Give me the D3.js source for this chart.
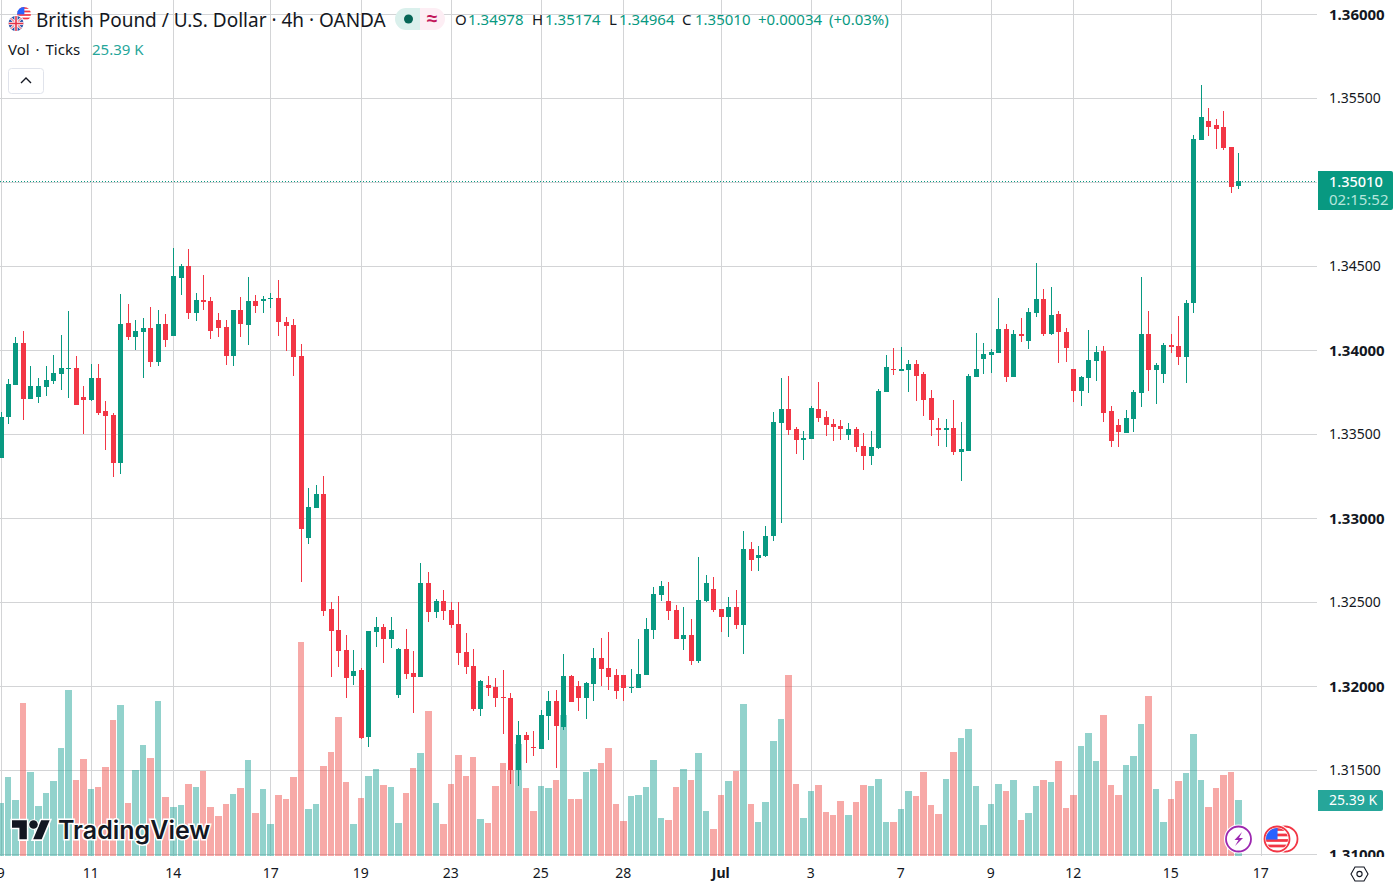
<!DOCTYPE html>
<html><head><meta charset="utf-8">
<script src="https://cdn.jsdelivr.net/npm/d3@7/dist/d3.min.js"></script>
<style>
html,body{margin:0;padding:0;background:#fff;overflow:hidden}
svg{display:block;font-family:"Noto Sans",sans-serif}
</style></head><body><svg id="c" width="1400" height="887"></svg>
<script>
// GBP/USD 4h, prices in 1/100000 of a dollar
const opens=[133359,133603,133794,134044,133710,133722,133782,133817,133859,133889,
133895,133722,133704,133835,133639,133615,133329,134163,134079,134109,
134133,133931,134157,134085,134430,134502,134222,134300,134294,134181,
134139,133966,134240,134151,134294,134294,134305,134311,134169,134151,
133966,132883,133061,133145,132460,132335,132216,132062,132097,131698,
132323,132353,132282,131948,132222,132079,132056,132615,132442,132508,
132454,132371,132204,132121,131865,132008,131996,131937,131931,131502,
131710,131639,131627,131823,131913,131758,132062,132002,131931,132014,
132169,132109,132067,132067,131990,131990,132067,132335,132544,132508,
132454,132282,132306,132151,132508,132579,132460,132413,132472,132365,
132817,132764,132776,132895,133567,133651,133532,133466,133472,133651,
133603,133562,133550,133496,133532,133431,133371,133419,133752,133889,
133877,133883,133919,133859,133716,133538,133526,133538,133395,133401,
133841,133948,133972,133984,134127,133841,134097,134056,134222,134306,
134097,134216,134109,133889,133758,133835,133937,133996,133639,133556,
133508,133591,133746,134097,133883,133859,134032,134026,133960,134282,
135252,135365,135341,135329,135210,134978];
const highs=[133633,133829,134079,134115,133907,133835,133907,133972,134091,134234,
133966,133788,133919,133919,133698,133627,134335,134276,134181,134192,
134258,134240,134216,134609,134514,134603,134341,134448,134317,134222,
134181,134240,134317,134436,134329,134323,134341,134419,134198,134186,
134038,133181,133198,133252,132502,132538,132306,132216,132109,132329,
132413,132371,132413,132228,132341,132210,132734,132681,132520,132573,
132502,132502,132317,132222,132038,132062,132050,132097,131960,131794,
131728,131734,131859,131972,131978,132192,132068,132032,132026,132228,
132288,132323,132103,132067,132103,132282,132407,132591,132627,132621,
132484,132472,132401,132770,132663,132651,132460,132532,132573,132925,
132859,132835,132954,133633,133835,133847,133544,133520,133669,133811,
133639,133591,133585,133567,133544,133508,133520,133770,133972,134014,
134020,133942,133942,133871,133764,133597,133591,133704,133573,133859,
134103,134044,134008,134311,134157,134121,134192,134252,134520,134365,
134377,134234,134133,133889,133847,134121,134026,134026,133669,133591,
133645,133764,134436,134234,133925,134044,134097,134204,134300,135282,
135579,135442,135377,135425,135210,135174];
const lows=[133359,133562,133794,133585,133710,133686,133728,133800,133764,133716,
133675,133502,133698,133615,133407,133246,133264,134061,134002,133835,
133901,133907,134020,134085,134329,134186,134175,134240,134067,134079,
133913,133907,134079,134032,134222,134222,134252,134085,133996,133847,
132621,132847,133061,132419,132056,132115,131931,132008,131687,131639,
132234,132139,132228,131931,132044,131841,132056,132383,132407,132395,
132347,132127,132073,131853,131823,131943,131877,131716,131419,131407,
131544,131585,131627,131681,131514,131740,131907,131853,131806,131913,
132002,131978,131925,131913,131960,131990,132067,132282,132508,132395,
132282,132216,132127,132139,132502,132442,132323,132294,132341,132192,
132686,132686,132770,132865,132972,133496,133383,133347,133472,133573,
133490,133460,133466,133466,133395,133288,133317,133413,133752,133853,
133877,133752,133698,133609,133490,133431,133425,133377,133222,133401,
133841,133859,133865,133984,133811,133841,134050,134008,134198,134085,
134091,133925,133931,133692,133669,133746,133817,133573,133425,133425,
133508,133514,133663,133758,133681,133806,133984,133913,133806,134222,
135252,135276,135198,135192,134936,134964];
const closes=[133603,133800,134044,133710,133788,133788,133823,133865,133895,133895,
133675,133704,133835,133627,133609,133329,134157,134079,134115,134133,
133931,134157,134061,134442,134502,134222,134300,134288,134115,134133,
133966,134240,134157,134294,134264,134305,134311,134169,134145,133960,
132936,133067,133145,132448,132329,132210,132050,132091,131693,132329,
132353,132282,132335,132222,132073,132056,132615,132442,132508,132448,
132365,132198,132115,131865,132032,131990,131931,131931,131502,131710,
131681,131633,131829,131913,131764,132062,131907,131931,132020,132169,
132103,132056,131972,131990,131996,132073,132341,132550,132597,132448,
132282,132306,132151,132514,132615,132454,132413,132472,132365,132817,
132752,132782,132895,133573,133651,133526,133466,133478,133657,133597,
133556,133544,133532,133532,133425,133371,133425,133758,133901,133883,
133889,133919,133847,133704,133585,133526,133538,133395,133413,133847,
133889,133978,133990,134127,133841,134097,134085,134228,134306,134097,
134210,134109,134014,133758,133841,133942,133990,133627,133460,133514,
133597,133752,134097,133883,133913,134032,134020,133960,134282,135258,
135389,135329,135317,135204,134972,135010];
// tick volume, thousands
const volumes=[24.0,35.9,25.4,69.6,38.2,22.6,28.6,34.0,49.1,75.5,
34.5,44.1,30.4,31.3,40.4,61.9,68.7,24.0,39.1,50.5,
44.5,70.5,26.8,22.2,23.1,32.7,31.3,38.6,22.2,18.1,
23.6,28.1,30.9,43.6,19.5,30.4,14.4,27.7,25.8,35.9,
97.4,21.3,23.6,40.9,47.3,63.2,33.6,14.4,26.3,36.3,
39.5,32.2,31.3,14.9,28.6,40.0,46.8,66.0,24.0,14.4,
32.7,45.9,36.3,45.0,16.7,14.9,31.8,42.3,39.1,50.9,
30.9,20.4,31.8,30.9,34.5,64.1,25.8,25.8,38.2,39.5,
42.3,49.1,23.6,15.8,27.2,27.7,31.3,43.6,17.2,16.3,
31.3,39.5,34.5,46.8,20.4,12.2,27.7,34.0,38.6,69.2,
23.6,15.4,24.5,52.3,62.3,82.4,32.7,17.2,29.5,32.2,
19.9,18.5,24.9,18.5,24.5,32.2,31.8,35.0,15.4,15.4,
21.3,29.5,27.2,38.2,23.1,19.0,35.0,47.3,53.7,57.8,
31.8,14.0,23.6,32.7,29.5,34.5,16.3,19.5,31.8,34.5,
33.6,43.2,21.7,27.7,50.0,55.9,43.2,64.1,32.2,27.7,
41.3,45.4,60.0,72.8,30.4,15.4,25.8,34.0,37.7,55.5,
34.5,22.2,30.9,36.8,38.2,25.39];
const priceTicks=[131000,131500,132000,132500,133000,133500,134000,134500,135000,135500,136000];
const boldPrices=[131000,132000,133000,134000,136000];
const timeTickIdx=[0,12,23,36,48,60,72,83,96,108,120,132,143,156,168];
const timeTickLabels=["9","11","14","17","19","23","25","28","Jul","3","7","9","12","15","17"];
const lastPrice=135010;

const GREEN="#089981",RED="#F23645",TEAL="#26a69a",VRED="#ef5350",GRID="#d3d4d6",TXT="#131722";
const svg=d3.select("#c");
const x=d3.scaleLinear().domain([0,168]).range([1.3,1261.3]);
const y=d3.scaleLinear().domain([131000,136000]).range([854.5,14.5]);
const v=d3.scaleLinear().domain([0,100]).range([855.7,636.4]);
const left=i=>Math.round(x(i)-2.8);
const idx=d3.range(opens.length);

// grid
const clipId="pane";
svg.append("clipPath").attr("id",clipId).append("rect").attr("width",1317).attr("height",856);
const pane=svg.append("g").attr("clip-path",`url(#${clipId})`);
pane.append("g").selectAll("rect").data(timeTickIdx.slice(0)).join("rect")
 .attr("x",d=>left(d)+2).attr("y",0).attr("width",1).attr("height",856).attr("fill",GRID).attr("shape-rendering","crispEdges");
pane.append("g").selectAll("rect").data(priceTicks).join("rect")
 .attr("x",0).attr("y",d=>Math.floor(y(d))).attr("width",1317).attr("height",1).attr("fill",GRID).attr("shape-rendering","crispEdges");

// volume
pane.append("g").selectAll("rect").data(idx).join("rect")
 .attr("x",i=>left(i)-1).attr("width",i=>left(i+1)-left(i)-1)
 .attr("y",i=>v(volumes[i])).attr("height",i=>v(0)-v(volumes[i]))
 .attr("fill",i=>closes[i]>=opens[i]?TEAL:VRED).attr("fill-opacity",.5).attr("shape-rendering","crispEdges");

// last price line
pane.append("line").attr("x1",0).attr("x2",1317).attr("y1",Math.round(y(lastPrice))+.5).attr("y2",Math.round(y(lastPrice))+.5)
 .attr("stroke",GREEN).attr("stroke-width",1).attr("stroke-dasharray","1 2").attr("shape-rendering","crispEdges");

// candles
const cg=pane.append("g").attr("shape-rendering","crispEdges");
cg.selectAll("rect.w").data(idx).join("rect").attr("class","w")
 .attr("x",i=>left(i)+2).attr("width",1)
 .attr("y",i=>Math.round(y(highs[i]))).attr("height",i=>Math.max(1,Math.round(y(lows[i]))-Math.round(y(highs[i]))))
 .attr("fill",i=>closes[i]>=opens[i]?GREEN:RED);
cg.selectAll("rect.b").data(idx).join("rect").attr("class","b")
 .attr("x",i=>left(i)).attr("width",5)
 .attr("y",i=>Math.round(y(Math.max(opens[i],closes[i]))))
 .attr("height",i=>Math.max(1,Math.round(y(Math.min(opens[i],closes[i])))-Math.round(y(Math.max(opens[i],closes[i])))))
 .attr("fill",i=>closes[i]>=opens[i]?GREEN:RED);

// price axis
svg.append("clipPath").attr("id","pa").append("rect").attr("x",1317).attr("width",83).attr("height",857);
const ya=svg.append("g").attr("clip-path","url(#pa)").append("g").attr("transform","translate(1329,0)")
 .call(d3.axisRight(y).tickValues(priceTicks).tickSize(0).tickPadding(0).tickFormat(d=>(d/100000).toFixed(5)));
ya.select(".domain").remove();
ya.selectAll("text").attr("font-family",'"Noto Sans",sans-serif').attr("fill",TXT)
 .attr("font-size",d=>boldPrices.includes(d)?15:14)
 .attr("font-weight",d=>boldPrices.includes(d)?700:400);

// time axis
const xa=svg.append("g").attr("transform","translate(-1,873)")
 .call(d3.axisBottom(x).tickValues(timeTickIdx).tickSize(0).tickPadding(0)
 .tickFormat((d,i)=>timeTickLabels[i]));
xa.select(".domain").remove();
xa.selectAll("text").attr("y",0).attr("dy",".35em").attr("font-family",'"Noto Sans",sans-serif').attr("font-size",14).attr("fill",TXT)
 .attr("font-weight",d=>d===96?700:400);

// last price tags
function rr(g,x0,y0,w,h,r,fill){
 g.append("path").attr("d",`M${x0} ${y0}H${x0+w-r}Q${x0+w} ${y0} ${x0+w} ${y0+r}V${y0+h-r}Q${x0+w} ${y0+h} ${x0+w-r} ${y0+h}H${x0}Z`).attr("fill",fill);
}
const tag=svg.append("g");
rr(tag,1318,171,75,39,2,GREEN);
tag.append("text").attr("x",1329).attr("y",187).attr("font-size",14.5).attr("fill","#fff").attr("font-weight",500).text("1.35010");
tag.append("text").attr("x",1329).attr("y",205).attr("font-size",15).attr("fill","#b5e6dc").text("02:15:52");
rr(tag,1318,790,65,21,2,TEAL);
tag.append("text").attr("x",1329).attr("y",805).attr("font-size",14).attr("fill","#fff").text("25.39 K");

// header
const hd=svg.append("g");
function flagUS(g,cx,cy,r,id){
 g.append("clipPath").attr("id",id).append("circle").attr("cx",cx).attr("cy",cy).attr("r",r);
 const f=g.append("g").attr("clip-path",`url(#${id})`);
 f.append("rect").attr("x",cx-r).attr("y",cy-r).attr("width",2*r).attr("height",2*r).attr("fill","#fff");
 for(let k=0;k<4;k++)f.append("rect").attr("x",cx-r).attr("y",cy-r+k*r/2+.1).attr("width",2*r).attr("height",r/4).attr("fill","#f23645");
 f.append("rect").attr("x",cx-r).attr("y",cy-r).attr("width",r*1.05).attr("height",r*1.05).attr("fill","#2962ff");
}
function flagUK(g,cx,cy,r,id){
 g.append("clipPath").attr("id",id).append("circle").attr("cx",cx).attr("cy",cy).attr("r",r);
 const f=g.append("g").attr("clip-path",`url(#${id})`);
 f.append("rect").attr("x",cx-r).attr("y",cy-r).attr("width",2*r).attr("height",2*r).attr("fill","#2450a8");
 [[1,1],[1,-1]].forEach(([a,b])=>{
  f.append("line").attr("x1",cx-r*a).attr("y1",cy-r*b).attr("x2",cx+r*a).attr("y2",cy+r*b).attr("stroke","#fff").attr("stroke-width",2.6);
  f.append("line").attr("x1",cx-r*a).attr("y1",cy-r*b).attr("x2",cx+r*a).attr("y2",cy+r*b).attr("stroke","#e5344a").attr("stroke-width",1);});
 f.append("rect").attr("x",cx-r).attr("y",cy-1.6).attr("width",2*r).attr("height",3.2).attr("fill","#fff");
 f.append("rect").attr("x",cx-1.6).attr("y",cy-r).attr("width",3.2).attr("height",2*r).attr("fill","#fff");
 f.append("rect").attr("x",cx-r).attr("y",cy-.8).attr("width",2*r).attr("height",1.6).attr("fill","#e5344a");
 f.append("rect").attr("x",cx-.8).attr("y",cy-r).attr("width",1.6).attr("height",2*r).attr("fill","#e5344a");
}
flagUS(hd,24,14,7,"usa");
hd.append("circle").attr("cx",16).attr("cy",23.5).attr("r",8.6).attr("fill","#fff");
flagUK(hd,16,23.5,7.5,"uk");
hd.append("text").attr("x",36).attr("y",27).attr("font-size",19).attr("fill",TXT).text("British Pound / U.S. Dollar · 4h · OANDA");
hd.append("path").attr("d","M420 8H406a11 11 0 0 0 0 22H420Z").attr("fill","#daf0ec");
hd.append("path").attr("d","M420 8H434a11 11 0 0 1 0 22H420Z").attr("fill","#fdeef4");
hd.append("circle").attr("cx",408.5).attr("cy",19).attr("r",4.5).attr("fill","#056656");
hd.append("text").attr("x",432).attr("y",25).attr("text-anchor","middle").attr("font-size",19).attr("font-weight",700).attr("fill","#c2185b").text("≈");
const ohlc=[["O",455,TXT],["1.34978",468,GREEN],["H",532,TXT],["1.35174",545,GREEN],["L",609,TXT],["1.34964",619,GREEN],["C",682,TXT],["1.35010",695,GREEN],["+0.00034",758,GREEN],["(+0.03%)",829,GREEN]];
hd.selectAll("text.o").data(ohlc).join("text").attr("class","o").attr("x",d=>d[1]).attr("y",24.5).attr("font-size",15).attr("fill",d=>d[2]).text(d=>d[0]);
hd.append("text").attr("x",8).attr("y",55).attr("font-size",15).attr("word-spacing",2).attr("fill",TXT).text("Vol · Ticks");
hd.append("text").attr("x",92).attr("y",55).attr("font-size",15).attr("fill",TEAL).text("25.39 K");
hd.append("rect").attr("x",8.5).attr("y",68.5).attr("width",35).attr("height",25).attr("rx",3).attr("fill","#fff").attr("stroke","#e0e3eb");
hd.append("path").attr("d","M21 83L26 78L31 83").attr("fill","none").attr("stroke",TXT).attr("stroke-width",1.4);

// watermark
const wm=svg.append("g");
wm.append("g").attr("transform","translate(12,816) scale(1.06)")
 .append("path").attr("d","M14 22H7V11H0V4h14v18zM28 22h-8l7.5-18h8L28 22z").attr("fill","#131722").attr("stroke","#fff").attr("stroke-width",3).attr("paint-order","stroke");
wm.append("circle").attr("cx",33.5).attr("cy",824.5).attr("r",4.3).attr("fill","#131722").attr("stroke","#fff").attr("stroke-width",2).attr("paint-order","stroke");
wm.append("text").attr("x",58).attr("y",839).attr("font-family","Inter,sans-serif").attr("font-weight",600).attr("font-size",25).attr("fill","#131722")
 .attr("stroke","#fff").attr("stroke-width",3).attr("paint-order","stroke").text("TradingView");

// event badges
const ev=svg.append("g");
ev.append("circle").attr("cx",1238.5).attr("cy",839).attr("r",14.5).attr("fill","#fff");
ev.append("circle").attr("cx",1238.5).attr("cy",839).attr("r",12.5).attr("fill","#fff").attr("stroke","#9c27b0").attr("stroke-width",1.8);
ev.append("path").attr("d","M1242 832L1234.5 840H1238.5L1235 846L1243 838H1239Z").attr("fill","#9c27b0");
ev.append("circle").attr("cx",1285).attr("cy",839).attr("r",12.5).attr("fill","#fff").attr("stroke","#f23645").attr("stroke-width",1.8);
ev.append("circle").attr("cx",1277).attr("cy",839).attr("r",14.5).attr("fill","#fff");
ev.append("circle").attr("cx",1277).attr("cy",839).attr("r",12.5).attr("fill","none").attr("stroke","#f23645").attr("stroke-width",1.8);
flagUS(ev,1277,839,11,"us2");
// settings hexagon
const hx=svg.append("g");
hx.append("path").attr("d","M1351 874L1355 867H1364L1368 874L1364 881H1355Z").attr("fill","none").attr("stroke",TXT).attr("stroke-width",1.1);
hx.append("circle").attr("cx",1359.5).attr("cy",874).attr("r",2.6).attr("fill","none").attr("stroke",TXT).attr("stroke-width",1.1);
</script></body></html>
